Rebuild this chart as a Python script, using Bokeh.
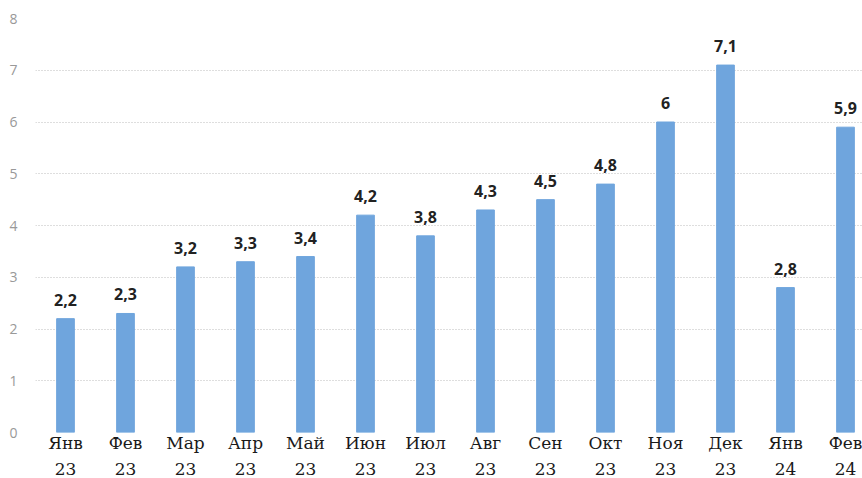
from bokeh.plotting import figure
from bokeh.models import ColumnDataSource, Range1d, FixedTicker
from bokeh.core.properties import value
from bokeh.embed import file_html
from bokeh.resources import INLINE

months = ["Янв", "Фев", "Мар", "Апр", "Май", "Июн", "Июл", "Авг", "Сен", "Окт", "Ноя", "Дек", "Янв", "Фев"]
years = ["23", "23", "23", "23", "23", "23", "23", "23", "23", "23", "23", "23", "24", "24"]
values = [2.2, 2.3, 3.2, 3.3, 3.4, 4.2, 3.8, 4.3, 4.5, 4.8, 6.0, 7.1, 2.8, 5.9]
y_ticks = [0, 1, 2, 3, 4, 5, 6, 7, 8]

idx = list(range(len(values)))
labels = [("%g" % v).replace(".", ",") for v in values]
src = ColumnDataSource(dict(x=idx, top=values, label=labels))

p = figure(frame_width=827, frame_height=414, output_backend="svg", toolbar_location=None,
           x_range=Range1d(-0.5, -0.5 + 827 / 60), y_range=Range1d(0, 8),
           min_border_left=35, min_border_right=0, min_border_top=18, min_border_bottom=40)
p.outline_line_color = None
p.background_fill_color = "white"
p.border_fill_color = "white"

p.vbar(x="x", top="top", width=0.295, bottom=0, source=src, color="#6fa5dd")
p.text(x="x", y="top", text="label", source=src, text_align="center", text_baseline="bottom",
       y_offset=-13, text_font=value("Open Sans"), text_font_style="bold", text_font_size="16px",
       text_color="#222222")

p.xgrid.grid_line_color = None
p.ygrid.grid_line_color = "#bdbdbd"
p.ygrid.grid_line_dash = "1 2"
p.ygrid.grid_line_width = 1
p.ygrid.ticker = FixedTicker(ticks=y_ticks)

p.yaxis.ticker = FixedTicker(ticks=y_ticks)
p.yaxis.axis_line_color = None
p.yaxis.major_tick_line_color = None
p.yaxis.minor_tick_line_color = None
p.yaxis.major_tick_out = 0
p.yaxis.major_label_text_color = "#999999"
p.yaxis.major_label_text_font = "Open Sans"
p.yaxis.major_label_text_font_size = "14px"
p.yaxis.major_label_standoff = 18

p.xaxis.ticker = FixedTicker(ticks=idx)
p.xaxis.major_label_overrides = {i: months[i] + "\n" + years[i] for i in idx}
p.xaxis.axis_line_color = None
p.xaxis.major_tick_line_color = None
p.xaxis.minor_tick_line_color = None
p.xaxis.major_tick_out = 0
p.xaxis.major_label_text_color = "#1a1a1a"
p.xaxis.major_label_text_font = "DejaVu Serif"
p.xaxis.major_label_text_font_size = "17px"
p.xaxis.major_label_standoff = 0
p.xaxis.major_label_text_line_height = 1.3

open("out.html", "w").write(file_html(p, INLINE))
